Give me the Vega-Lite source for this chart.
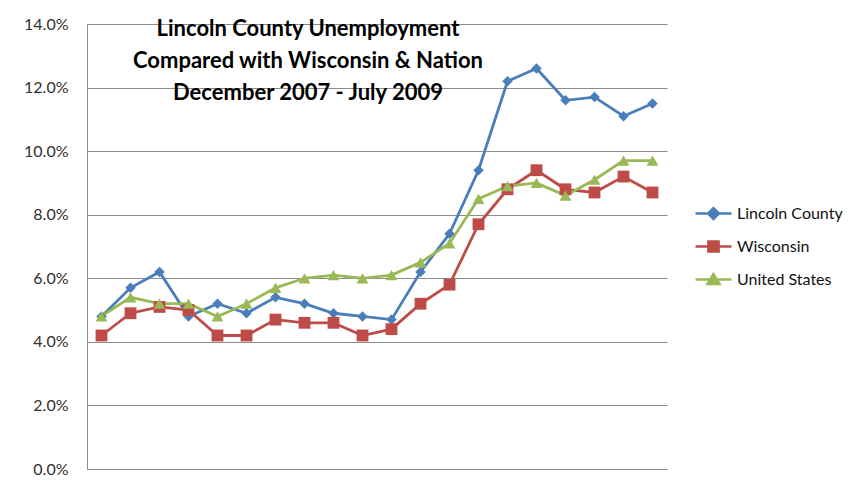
{
  "$schema": "https://vega.github.io/schema/vega-lite/v6.json",
  "autosize": "none",
  "width": 580,
  "height": 445,
  "padding": {"left": 87, "top": 24, "right": 198, "bottom": 20},
  "background": "white",
  "config": {
    "font": "Lato",
    "view": {"stroke": null},
    "axis": {"gridColor": "#8c8c8c", "gridWidth": 1, "domainColor": "#8c8c8c"}
  },
  "title": {
    "text": ["Lincoln County Unemployment", "Compared with Wisconsin & Nation", "December 2007 - July 2009"],
    "font": "Lato",
    "fontSize": 22,
    "fontWeight": "bold",
    "color": "#000000",
    "lineHeight": 32,
    "anchor": "middle",
    "frame": "group",
    "baseline": "top",
    "dx": -69,
    "dy": 93
  },
  "data": {
    "values": [
      {"month": "Dec 2007", "series": "Lincoln County", "rate": 4.8},
      {"month": "Jan 2008", "series": "Lincoln County", "rate": 5.7},
      {"month": "Feb 2008", "series": "Lincoln County", "rate": 6.2},
      {"month": "Mar 2008", "series": "Lincoln County", "rate": 4.8},
      {"month": "Apr 2008", "series": "Lincoln County", "rate": 5.2},
      {"month": "May 2008", "series": "Lincoln County", "rate": 4.9},
      {"month": "Jun 2008", "series": "Lincoln County", "rate": 5.4},
      {"month": "Jul 2008", "series": "Lincoln County", "rate": 5.2},
      {"month": "Aug 2008", "series": "Lincoln County", "rate": 4.9},
      {"month": "Sep 2008", "series": "Lincoln County", "rate": 4.8},
      {"month": "Oct 2008", "series": "Lincoln County", "rate": 4.7},
      {"month": "Nov 2008", "series": "Lincoln County", "rate": 6.2},
      {"month": "Dec 2008", "series": "Lincoln County", "rate": 7.4},
      {"month": "Jan 2009", "series": "Lincoln County", "rate": 9.4},
      {"month": "Feb 2009", "series": "Lincoln County", "rate": 12.2},
      {"month": "Mar 2009", "series": "Lincoln County", "rate": 12.6},
      {"month": "Apr 2009", "series": "Lincoln County", "rate": 11.6},
      {"month": "May 2009", "series": "Lincoln County", "rate": 11.7},
      {"month": "Jun 2009", "series": "Lincoln County", "rate": 11.1},
      {"month": "Jul 2009", "series": "Lincoln County", "rate": 11.5},
      {"month": "Dec 2007", "series": "Wisconsin", "rate": 4.2},
      {"month": "Jan 2008", "series": "Wisconsin", "rate": 4.9},
      {"month": "Feb 2008", "series": "Wisconsin", "rate": 5.1},
      {"month": "Mar 2008", "series": "Wisconsin", "rate": 5.0},
      {"month": "Apr 2008", "series": "Wisconsin", "rate": 4.2},
      {"month": "May 2008", "series": "Wisconsin", "rate": 4.2},
      {"month": "Jun 2008", "series": "Wisconsin", "rate": 4.7},
      {"month": "Jul 2008", "series": "Wisconsin", "rate": 4.6},
      {"month": "Aug 2008", "series": "Wisconsin", "rate": 4.6},
      {"month": "Sep 2008", "series": "Wisconsin", "rate": 4.2},
      {"month": "Oct 2008", "series": "Wisconsin", "rate": 4.4},
      {"month": "Nov 2008", "series": "Wisconsin", "rate": 5.2},
      {"month": "Dec 2008", "series": "Wisconsin", "rate": 5.8},
      {"month": "Jan 2009", "series": "Wisconsin", "rate": 7.7},
      {"month": "Feb 2009", "series": "Wisconsin", "rate": 8.8},
      {"month": "Mar 2009", "series": "Wisconsin", "rate": 9.4},
      {"month": "Apr 2009", "series": "Wisconsin", "rate": 8.8},
      {"month": "May 2009", "series": "Wisconsin", "rate": 8.7},
      {"month": "Jun 2009", "series": "Wisconsin", "rate": 9.2},
      {"month": "Jul 2009", "series": "Wisconsin", "rate": 8.7},
      {"month": "Dec 2007", "series": "United States", "rate": 4.8},
      {"month": "Jan 2008", "series": "United States", "rate": 5.4},
      {"month": "Feb 2008", "series": "United States", "rate": 5.2},
      {"month": "Mar 2008", "series": "United States", "rate": 5.2},
      {"month": "Apr 2008", "series": "United States", "rate": 4.8},
      {"month": "May 2008", "series": "United States", "rate": 5.2},
      {"month": "Jun 2008", "series": "United States", "rate": 5.7},
      {"month": "Jul 2008", "series": "United States", "rate": 6.0},
      {"month": "Aug 2008", "series": "United States", "rate": 6.1},
      {"month": "Sep 2008", "series": "United States", "rate": 6.0},
      {"month": "Oct 2008", "series": "United States", "rate": 6.1},
      {"month": "Nov 2008", "series": "United States", "rate": 6.5},
      {"month": "Dec 2008", "series": "United States", "rate": 7.1},
      {"month": "Jan 2009", "series": "United States", "rate": 8.5},
      {"month": "Feb 2009", "series": "United States", "rate": 8.9},
      {"month": "Mar 2009", "series": "United States", "rate": 9.0},
      {"month": "Apr 2009", "series": "United States", "rate": 8.6},
      {"month": "May 2009", "series": "United States", "rate": 9.1},
      {"month": "Jun 2009", "series": "United States", "rate": 9.7},
      {"month": "Jul 2009", "series": "United States", "rate": 9.7}
    ]
  },
  "encoding": {
    "x": {
      "field": "month",
      "type": "ordinal",
      "sort": null,
      "scale": {"type": "point", "padding": 0.5},
      "axis": {"title": null, "labels": false, "ticks": false, "domain": true, "domainColor": "#8c8c8c", "grid": false}
    },
    "y": {
      "field": "rate",
      "type": "quantitative",
      "scale": {"domain": [0, 14], "nice": false},
      "axis": {
        "title": null,
        "values": [0, 2, 4, 6, 8, 10, 12, 14],
        "labelExpr": "format(datum.value, '.1f') + '%'",
        "labelFont": "Lato",
        "labelFontSize": 16,
        "labelColor": "#303030",
        "labelPadding": 19,
        "ticks": false,
        "domain": true,
        "domainColor": "#8c8c8c",
        "grid": true
      }
    },
    "color": {
      "field": "series",
      "type": "nominal",
      "sort": null,
      "scale": {
        "domain": ["Lincoln County", "Wisconsin", "United States"],
        "range": ["#4a7ebb", "#be4b48", "#98b954"]
      },
      "legend": {
        "title": null,
        "orient": "none",
        "legendX": 610,
        "legendY": 173,
        "symbolSize": 900,
        "rowPadding": 6,
        "labelOffset": 7,
        "labelFont": "Lato",
        "labelFontSize": 16,
        "labelColor": "#111111",
        "encode": {
          "symbols": {
            "update": {
              "shape": {"signal": "datum.value === 'Lincoln County' ? 'M-1.2,0H1.2M0,-0.36L0.36,0L0,0.36L-0.36,0Z' : (datum.value === 'Wisconsin' ? 'M-1.2,0H1.2M-0.34,-0.34H0.34V0.34H-0.34Z' : 'M-1.2,0H1.2M0,-0.36L0.4,0.3H-0.4Z')"},
              "fill": {"scale": "color", "field": "value"},
              "stroke": {"scale": "color", "field": "value"},
              "strokeWidth": {"value": 2.5},
              "size": {"value": 900},
              "opacity": {"value": 1}
            }
          }
        }
      }
    }
  },
  "layer": [
    {"mark": {"type": "line", "strokeWidth": 2.8}},
    {
      "transform": [{"filter": "datum.series === 'Lincoln County'"}],
      "mark": {"type": "point", "filled": true, "opacity": 1, "shape": "diamond", "size": 110}
    },
    {
      "transform": [{"filter": "datum.series === 'Wisconsin'"}],
      "mark": {"type": "point", "filled": true, "opacity": 1, "shape": "square", "size": 140}
    },
    {
      "transform": [{"filter": "datum.series === 'United States'"}],
      "mark": {"type": "point", "filled": true, "opacity": 1, "shape": "triangle-up", "size": 140}
    }
  ]
}
